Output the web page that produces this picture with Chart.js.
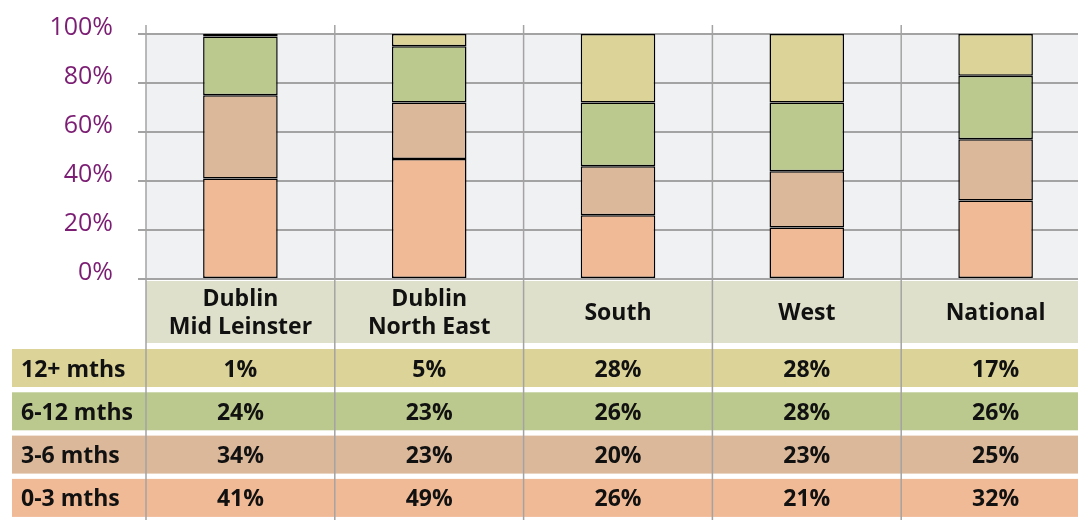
<!DOCTYPE html>
<html>
<head>
<meta charset="utf-8">
<script src="https://cdn.jsdelivr.net/npm/chart.js@4.4.1/dist/chart.umd.min.js"></script>
<style>
  html, body { margin: 0; padding: 0; background: #fff; overflow: hidden; }
  canvas { display: block; }
</style>
</head>
<body>
<canvas id="chart" width="1090" height="520"></canvas>
<script>
// data
const regions = [['Dublin', 'Mid Leinster'], ['Dublin', 'North East'], 'South', 'West', 'National'];
const rowLabels = ['12+ mths', '6-12 mths', '3-6 mths', '0-3 mths'];
const months0to3 = [41, 49, 26, 21, 32];
const months3to6 = [34, 23, 20, 23, 25];
const months6to12 = [24, 23, 26, 28, 26];
const months12plus = [1, 5, 28, 28, 17];

const COLORS = {
    m0: '#f1ba96',
    m3: '#dcb89b',
    m6: '#bbc98e',
    m12: '#dcd398',
    header: '#dfe0cb',
    plotBg: '#f0f1f3',
    grid: '#a3a3a3',
    purple: '#7b1d73'
}
const FONT = "'Open Sans', sans-serif";

// table rows, top to bottom
const tableRows = [
    { label: rowLabels[0], values: months12plus, color: COLORS.m12 },
    { label: rowLabels[1], values: months6to12, color: COLORS.m6 },
    { label: rowLabels[2], values: months3to6, color: COLORS.m3 },
    { label: rowLabels[3], values: months0to3, color: COLORS.m0 }
];

const tablePlugin = {
    id: 'dataTable',
    beforeDraw(chart) {
        const { ctx, chartArea: a } = chart;
        const W = chart.width;
        ctx.save();
        // plot background
        ctx.fillStyle = COLORS.plotBg;
        ctx.fillRect(a.left, a.top, a.right - a.left, a.bottom - a.top);
        // header band
        ctx.fillStyle = COLORS.header;
        ctx.fillRect(a.left, a.bottom + 2, W - a.left, 62);
        // row bands
        tableRows.forEach((row, i) => {
            ctx.fillStyle = row.color;
            ctx.fillRect(12, a.bottom + 70 + i * 43.3, W - 12, 38);
        });
        ctx.restore();
    },
    afterDraw(chart) {
        const { ctx, chartArea: a } = chart;
        const x = chart.scales.x;
        const n = regions.length;
        const step = (a.right - a.left) / n;
        ctx.save();
        // vertical separators, running through the table
        ctx.strokeStyle = COLORS.grid;
        ctx.lineWidth = 1.5;
        for (let i = 0; i < n; i++) {
            const px = a.left + i * step;
            ctx.beginPath();
            ctx.moveTo(px, a.top - 9);
            ctx.lineTo(px, chart.height);
            ctx.stroke();
        }
        // header labels
        ctx.fillStyle = '#111';
        ctx.textAlign = 'center';
        ctx.textBaseline = 'middle';
        ctx.font = `bold 23px ${FONT}`;
        const headerMid = a.bottom + 34;
        regions.forEach((r, i) => {
            const cx = x.getPixelForValue(i);
            if (Array.isArray(r)) {
                ctx.fillText(r[0], cx, headerMid - 14);
                ctx.fillText(r[1], cx, headerMid + 14);
            } else {
                ctx.fillText(r, cx, headerMid);
            }
        });
        // rows
        tableRows.forEach((row, i) => {
            const cy = a.bottom + 70 + i * 43.3 + 21;
            ctx.textAlign = 'left';
            ctx.fillText(row.label, 21, cy);
            ctx.textAlign = 'center';
            row.values.forEach((v, j) => {
                ctx.fillText(v + '%', x.getPixelForValue(j), cy);
            });
        });
        ctx.restore();
    }
};

const barStyle = { borderColor: '#000', borderWidth: 1.5, borderSkipped: false, barPercentage: 0.395, categoryPercentage: 1 };

const data = {
    labels: regions,
    datasets: [
        { label: rowLabels[3], data: months0to3, backgroundColor: COLORS.m0, ...barStyle },
        { label: rowLabels[2], data: months3to6, backgroundColor: COLORS.m3, ...barStyle },
        { label: rowLabels[1], data: months6to12, backgroundColor: COLORS.m6, ...barStyle },
        { label: rowLabels[0], data: months12plus, backgroundColor: COLORS.m12, ...barStyle }
    ]
};

const config = {
    type: 'bar',
    data: data,
    options: {
        responsive: false,
        animation: false,
        layout: { padding: { top: 34, bottom: 241, left: 0, right: 0 } },
        scales: {
            x: {
                stacked: true,
                grid: { display: false, drawTicks: false },
                border: { display: false },
                ticks: { display: false },
                afterFit: s => { s.height = 0; s.paddingLeft = 0; s.paddingRight = 0; }
            },
            y: {
                stacked: true,
                min: 0,
                max: 100,
                afterFit: s => { s.width = 146; s.paddingTop = 0; s.paddingBottom = 0; },
                grid: { color: COLORS.grid, lineWidth: 2, tickLength: 8 },
                border: { display: false },
                ticks: {
                    stepSize: 20,
                    padding: 25,
                    labelOffset: -6,
                    color: COLORS.purple,
                    font: { family: FONT, size: 25 },
                    callback: v => v + '%'
                }
            }
        },
        plugins: {
            legend: { display: false },
            tooltip: { enabled: false }
        }
    },
    plugins: [tablePlugin]
};

const context = document.getElementById('chart').getContext('2d');
new Chart(context, config);
</script>
</body>
</html>
